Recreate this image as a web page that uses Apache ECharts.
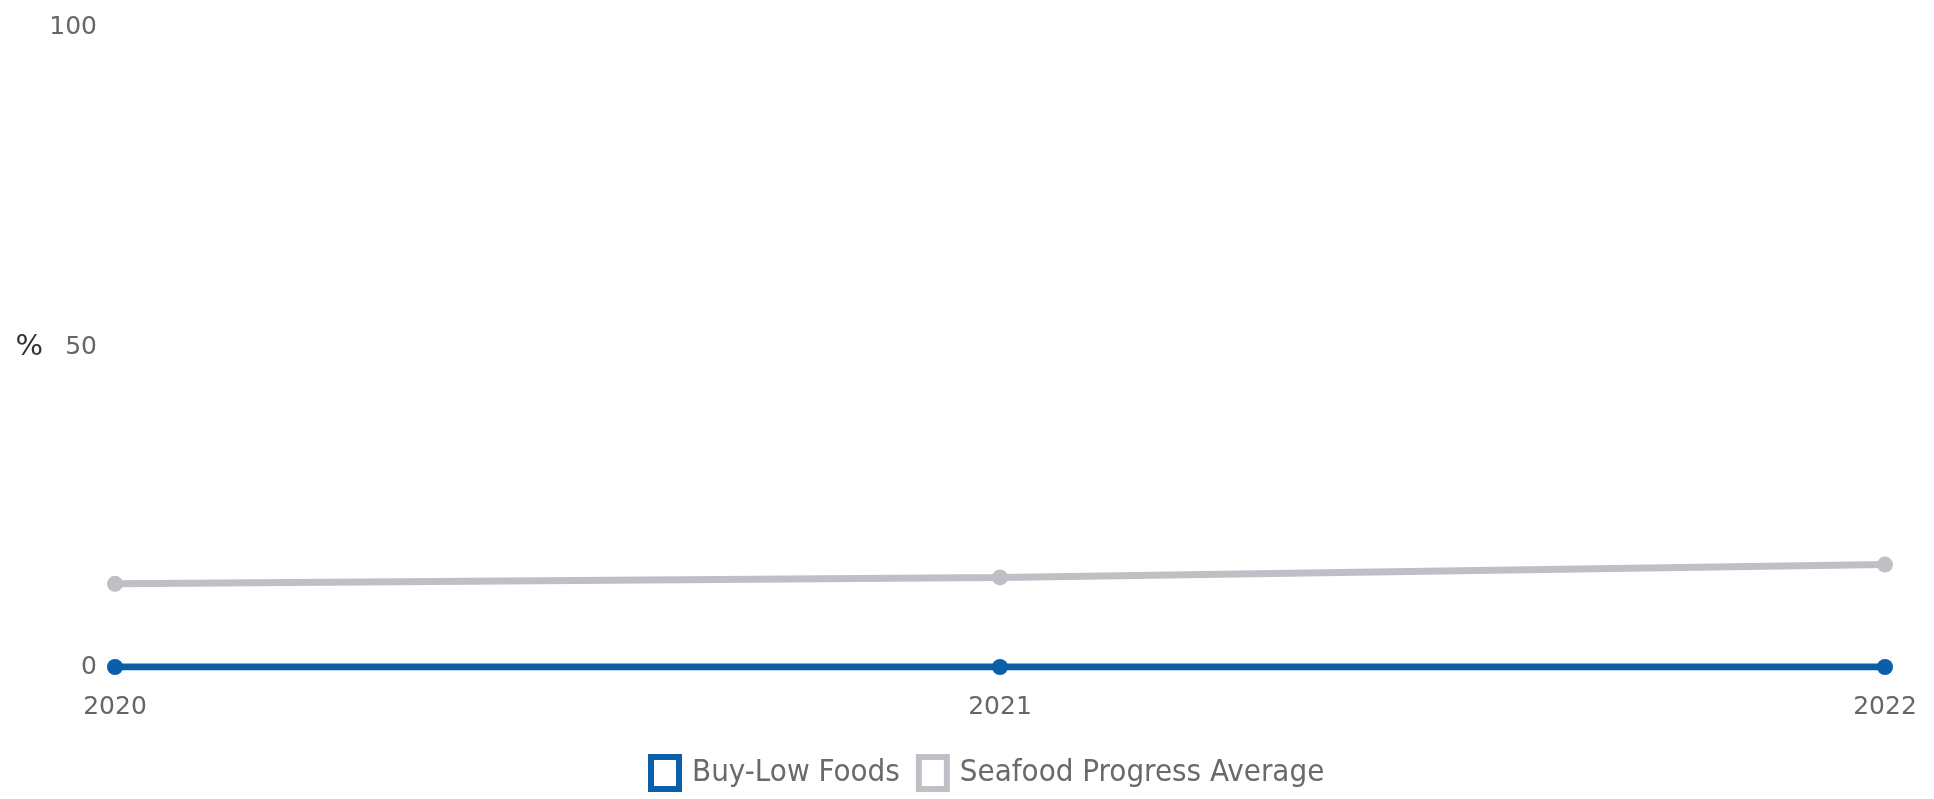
<!DOCTYPE html>
<html>
<head>
<meta charset="utf-8">
<script src="https://cdn.jsdelivr.net/npm/echarts@6/dist/echarts.min.js"></script>
<style>html,body{margin:0;padding:0;background:#fff}#c{width:1934px;height:799px}</style>
</head>
<body>
<div id="c"></div>
<script>
const categories = ['2020', '2021', '2022'];
const buyLowFoods = [0, 0, 0];
const seafoodAverage = [13, 14, 16];
const yTicks = [0, 50, 100];

const chart = echarts.init(document.getElementById('c'));
chart.setOption({
  animation: false,
  grid: { left: 115, right: 49, top: 27, bottom: 132, containLabel: false },
  legend: {
    bottom: 2,
    left: 643,
    itemWidth: 28,
    itemHeight: 32,
    itemGap: 16,
    textStyle: { fontFamily: '"DejaVu Sans Condensed", "Roboto", sans-serif', fontSize: 31, color: '#6a6a6a', padding: [0, 0, 0, 8] },
    data: [
      { name: 'Buy-Low Foods', icon: 'rect', itemStyle: { color: '#fff', borderColor: '#0a5fa8', borderWidth: 6 } },
      { name: 'Seafood Progress Average', icon: 'rect', itemStyle: { color: '#fff', borderColor: '#bfbfc5', borderWidth: 6 } }
    ]
  },
  xAxis: {
    type: 'category',
    data: categories,
    boundaryGap: false,
    axisLine: { show: false },
    axisTick: { show: false },
    axisLabel: { margin: 28, fontFamily: 'DejaVu Sans', fontSize: 25, color: '#666' }
  },
  yAxis: {
    type: 'value',
    min: 0, max: 100, interval: 50,
    name: '%',
    nameLocation: 'middle',
    nameRotate: 0,
    nameGap: 72,
    nameTextStyle: { fontFamily: 'DejaVu Sans', fontSize: 29, color: '#333' },
    splitLine: { show: false },
    axisLine: { show: false },
    axisTick: { show: false },
    axisLabel: { margin: 18, fontFamily: 'DejaVu Sans', fontSize: 25, color: '#666',
      formatter: v => yTicks.includes(v) ? String(v) : '' }
  },
  series: [
    {
      name: 'Seafood Progress Average', type: 'line', data: seafoodAverage,
      symbol: 'circle', symbolSize: 16,
      lineStyle: { color: '#bfbfc5', width: 7 },
      itemStyle: { color: '#bfbfc5' }
    },
    {
      name: 'Buy-Low Foods', type: 'line', data: buyLowFoods,
      symbol: 'circle', symbolSize: 16,
      lineStyle: { color: '#0a5fa8', width: 7 },
      itemStyle: { color: '#0a5fa8' }
    }
  ]
});
</script>
</body>
</html>
